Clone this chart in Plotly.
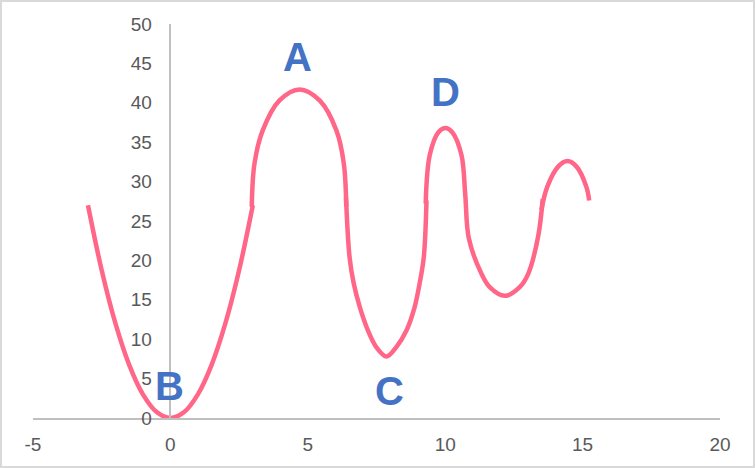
import plotly.graph_objects as go

# Segment data (separate smoothed series, same colour)
seg1_x = [-3.0, -2.5, -2.0, -1.5, -1.0, -0.5, 0.0, 0.5, 1.0, 1.5, 2.0, 2.5, 3.0]
seg1_y = [27.0, 18.75, 12.0, 6.75, 3.0, 0.75, 0.0, 0.75, 3.0, 6.75, 12.0, 18.75, 27.0]

seg2_x = [2.96, 3.06, 3.36, 3.97, 4.70, 5.43, 6.04, 6.31, 6.40]
seg2_y = [26.8, 32.3, 36.5, 40.3, 41.7, 40.3, 36.5, 32.3, 26.8]

seg3_x = [6.39, 6.52, 6.67, 6.89, 7.19, 7.49, 7.86, 8.22, 8.59, 8.89, 9.07, 9.22, 9.32]
seg3_y = [28.0, 20.4, 17.1, 14.1, 11.1, 9.0, 7.8, 9.0, 11.1, 14.1, 17.1, 20.4, 27.6]

seg4_x = [9.29, 9.44, 9.76, 10.01, 10.25, 10.59, 10.73, 10.86, 11.32, 11.62, 12.17, 12.71, 13.02, 13.38, 13.55]
seg4_y = [27.2, 33.4, 36.3, 36.8, 36.3, 33.4, 28.3, 22.8, 18.3, 16.6, 15.5, 16.6, 18.3, 23.0, 27.8]

seg5_x = [13.50, 13.71, 14.11, 14.45, 14.78, 15.14, 15.24]
seg5_y = [26.4, 29.3, 31.9, 32.6, 31.9, 29.3, 27.6]

label_text = ["A", "B", "C", "D"]
label_x = [4.62, -0.04, 7.96, 10.02]
label_y = [45.8, 4.0, 3.45, 41.4]

x_ticks = [-5, 0, 5, 10, 15, 20]
y_ticks = [0, 5, 10, 15, 20, 25, 30, 35, 40, 45, 50]

LINE_COLOR = "#FF6687"
LABEL_COLOR = "#4472C4"
AXIS_COLOR = "#BFBFBF"
TICK_COLOR = "#595959"
FONT = "Liberation Sans, Arial, sans-serif"

fig = go.Figure()
for xs, ys in [(seg1_x, seg1_y), (seg2_x, seg2_y), (seg3_x, seg3_y),
               (seg4_x, seg4_y), (seg5_x, seg5_y)]:
    fig.add_trace(go.Scatter(x=xs, y=ys, mode="lines",
                             line=dict(color=LINE_COLOR, width=4.5, shape="spline", smoothing=1.0),
                             showlegend=False, hoverinfo="skip"))

for t, lx, ly in zip(label_text, label_x, label_y):
    fig.add_annotation(x=lx, y=ly, text="<b>%s</b>" % t, showarrow=False,
                       font=dict(family=FONT, size=40, color=LABEL_COLOR),
                       xanchor="center", yanchor="middle")

W, H = 755, 468
ml, mr, mt, mb = 33, 35, 24, 50
pw, ph = W - ml - mr, H - mt - mb

# outer light border around the chart
fig.add_shape(type="rect", xref="paper", yref="paper",
              x0=(1 - ml) / pw, x1=(W - 1 - ml) / pw,
              y0=-(H - 1 - (H - mb)) / ph, y1=1 + (mt - 1) / ph,
              line=dict(color="#D9D9D9", width=2), layer="below")

fig.update_layout(
    width=W, height=H,
    margin=dict(l=ml, r=mr, t=mt, b=mb),
    paper_bgcolor="white", plot_bgcolor="white",
    xaxis=dict(range=[-5, 20], tickvals=x_ticks, ticktext=[str(v) for v in x_ticks],
               showgrid=False, zeroline=False, showline=True,
               linecolor=AXIS_COLOR, linewidth=1.5, ticks="",
               ticklabelstandoff=8,
               tickfont=dict(family=FONT, size=19, color=TICK_COLOR)),
    yaxis=dict(range=[0, 50], tickvals=y_ticks, ticktext=[str(v) for v in y_ticks],
               showgrid=False, zeroline=False, showline=True,
               linecolor=AXIS_COLOR, linewidth=1.5, ticks="",
               anchor="free", position=0.2, ticklabelstandoff=14,
               tickfont=dict(family=FONT, size=19, color=TICK_COLOR)),
)

fig.write_html("out.html", config={"displayModeBar": False},
               post_script="document.body.style.margin='0';document.body.style.overflow='hidden';")
